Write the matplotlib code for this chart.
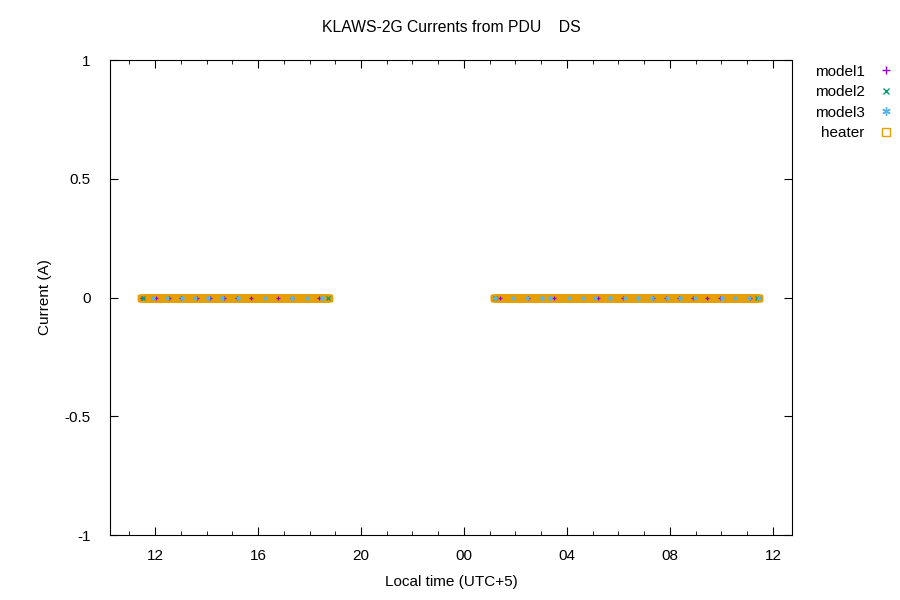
import numpy as np
import matplotlib
matplotlib.use("Agg")
import matplotlib.pyplot as plt
from matplotlib.lines import Line2D
from matplotlib.ticker import MultipleLocator, FixedLocator

plt.rcParams['font.family'] = ['Liberation Sans', 'DejaVu Sans']

# time axis in hours since 00:00 of the first day (24+ = next day)
seg_starts = [11.45, 25.15]
seg_ends = [18.78, 35.48]
sample_step = 1.0 / 60  # one reading per minute

heater_t = np.concatenate([np.arange(a, b, sample_step) for a, b in zip(seg_starts, seg_ends)])
heater_i = np.zeros_like(heater_t)

model1_t = [11.50, 12.04, 12.54, 13.01, 13.63, 14.14, 14.68, 15.18, 15.73, 16.78, 17.32, 18.37,
            25.40, 26.49, 27.50, 29.20, 30.17, 31.34, 31.84, 32.35, 32.89, 33.44, 33.94, 35.11, 35.45]
model1_i = [0.0] * len(model1_t)

model2_t = [11.55, 18.70, 25.20, 35.40]
model2_i = [0.0] * len(model2_t)

model3_t = [11.92, 12.47, 13.05, 13.55, 14.06, 14.60, 15.22, 16.27, 17.32, 17.90, 18.49,
            25.20, 25.90, 26.45, 27.03, 27.34, 28.08, 28.62, 29.09, 29.67, 30.25, 30.76, 31.30,
            31.88, 32.39, 32.97, 34.02, 34.52, 35.07, 35.45]
model3_i = [0.0] * len(model3_t)

xtick_pos = [12, 16, 20, 24, 28, 32, 36]
xtick_lab = ["12", "16", "20", "00", "04", "08", "12"]

c_heater = '#e69f00'
c_m1 = '#9400d3'
c_m2 = '#009e73'
c_m3 = '#56b4e9'
asterisk = (6, 2, 0)

fig = plt.figure(figsize=(9, 6), dpi=100)
ax = fig.add_axes([0.1222, 0.1083, 0.88 - 0.1222, 0.9 - 0.1083])

ax.plot(heater_t, heater_i, ls='none', marker='s', ms=4.6, mfc='none', mec=c_heater, mew=1.0)
ax.plot(model1_t, model1_i, ls='none', marker='+', ms=3, color=c_m1, mew=0.9)
ax.plot(model2_t, model2_i, ls='none', marker='x', ms=2.5, color=c_m2, mew=0.9)
ax.plot(model3_t, model3_i, ls='none', marker=asterisk, ms=3, color=c_m3, mew=0.9)

ax.set_xlim(10.25, 36.74)
ax.set_ylim(-1, 1)
ax.xaxis.set_major_locator(FixedLocator(xtick_pos))
ax.set_xticklabels(xtick_lab)
ax.xaxis.set_minor_locator(MultipleLocator(1))
ax.set_yticks([-1, -0.5, 0, 0.5, 1])
ax.set_yticklabels(["-1", "-0.5", "0", "0.5", "1"])
ax.tick_params(which='both', direction='in', top=True, right=True, labelsize=11, pad=10)
ax.tick_params(which='major', length=6)
ax.tick_params(which='minor', length=3)
ax.tick_params(axis='y', pad=14)
for s in ax.spines.values():
    s.set_linewidth(0.8)

ax.set_xlabel("Local time (UTC+5)", fontsize=11, labelpad=9)
ax.set_ylabel("Current (A)", fontsize=11, labelpad=9)
ax.set_title("KLAWS-2G Currents from PDU    DS", fontsize=11.3, pad=20)

handles = [
    Line2D([], [], ls='none', marker='+', ms=6, color=c_m1, mew=1.0),
    Line2D([], [], ls='none', marker='x', ms=5, color=c_m2, mew=1.0),
    Line2D([], [], ls='none', marker=asterisk, ms=6, color=c_m3, mew=1.0),
    Line2D([], [], ls='none', marker='s', ms=5.5, mfc='none', mec=c_heater, mew=1.0),
]
labels = ["model1", "model2", "model3", "heater"]
fig.legend(handles, labels, loc='upper right', bbox_to_anchor=(1.008, 0.915), frameon=False,
           markerfirst=False, fontsize=11, handlelength=1.0, handletextpad=0.9, labelspacing=0.42)

fig.savefig("out.png", dpi=100)
